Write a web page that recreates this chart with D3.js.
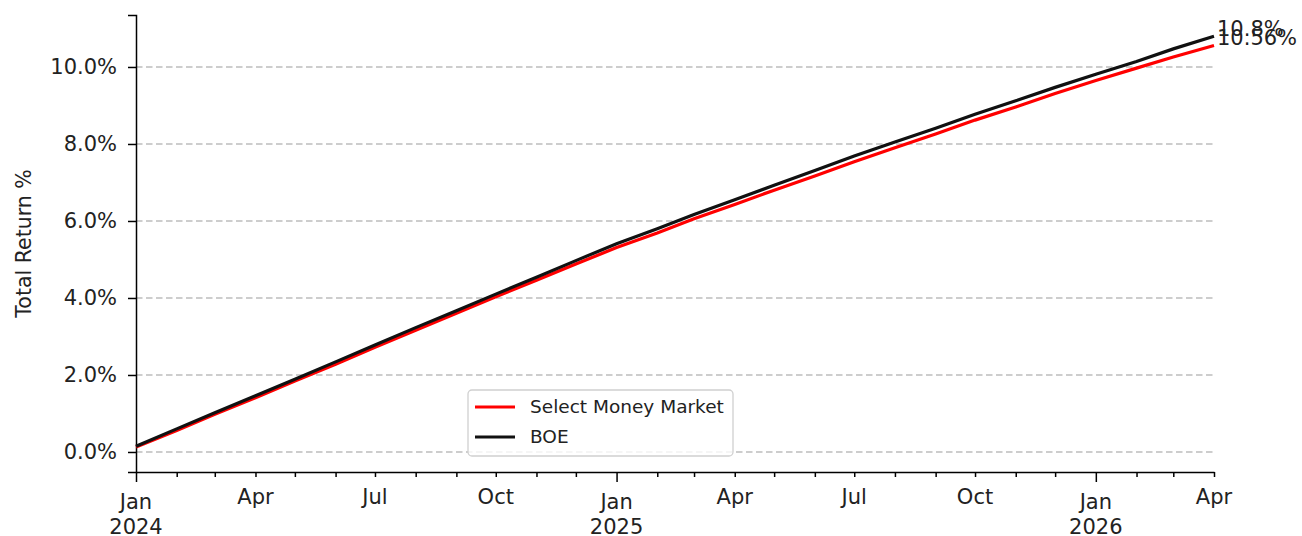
<!DOCTYPE html>
<html>
<head>
<meta charset="utf-8">
<script src="https://cdn.jsdelivr.net/npm/d3@7"></script>
<style>
  body { margin: 0; background: #fff; }
  text { font-family: "DejaVu Sans", sans-serif; fill: #222; }
</style>
</head>
<body>
<div id="chart"></div>
<script>
// Chart size and axes box
const width = 1302;
const height = 536;
const margin = { top: 15, right: 88, bottom: 64, left: 136 };

// Monthly dates (first of month)
const dates = [
  "2024-01-01","2024-02-01","2024-03-01","2024-04-01","2024-05-01","2024-06-01",
  "2024-07-01","2024-08-01","2024-09-01","2024-10-01","2024-11-01","2024-12-01",
  "2025-01-01","2025-02-01","2025-03-01","2025-04-01","2025-05-01","2025-06-01",
  "2025-07-01","2025-08-01","2025-09-01","2025-10-01","2025-11-01","2025-12-01",
  "2026-01-01","2026-02-01","2026-03-01","2026-04-01"
];

// Total return % series
const selectMoneyMarket = [
  0.13, 0.56, 0.98, 1.41, 1.84, 2.28, 2.72, 3.16, 3.60, 4.03, 4.46, 4.88,
  5.31, 5.69, 6.06, 6.43, 6.80, 7.17, 7.54, 7.90, 8.26, 8.62, 8.96, 9.31,
  9.65, 9.97, 10.26, 10.56
];
const boe = [
  0.15, 0.60, 1.02, 1.46, 1.89, 2.34, 2.78, 3.23, 3.67, 4.10, 4.54, 4.97,
  5.41, 5.80, 6.17, 6.55, 6.93, 7.31, 7.69, 8.05, 8.41, 8.77, 9.12, 9.47,
  9.81, 10.14, 10.47, 10.80
];

const yTicks = [0, 2, 4, 6, 8, 10];
const seriesNames = ["Select Money Market", "BOE"];
const seriesColors = ["#ff0000", "#111111"];

const parse = d3.timeParse("%Y-%m-%d");
const series = [selectMoneyMarket, boe].map((vals, i) => ({
  name: seriesNames[i],
  color: seriesColors[i],
  values: vals.map((v, j) => ({ date: parse(dates[j]), value: v }))
}));

const svg = d3.select("#chart")
  .append("svg")
  .attr("width", width)
  .attr("height", height);

const x = d3.scaleTime()
  .domain([parse(dates[0]), parse(dates[dates.length - 1])])
  .range([margin.left, width - margin.right]);

const y = d3.scaleLinear()
  .domain([-0.52, 11.35])
  .range([height - margin.bottom, margin.top]);

// Horizontal dashed grid
svg.append("g")
  .selectAll("line")
  .data(yTicks)
  .enter().append("line")
  .attr("x1", x.range()[0])
  .attr("x2", x.range()[1])
  .attr("y1", d => y(d))
  .attr("y2", d => y(d))
  .attr("stroke", "#bdbdbd")
  .attr("stroke-width", 1.3)
  .attr("stroke-dasharray", "6.5,3.5");

// Y axis
const yAxis = svg.append("g")
  .attr("transform", `translate(${margin.left},0)`)
  .call(d3.axisLeft(y).tickValues(yTicks).tickFormat(d => d.toFixed(1) + "%").tickSize(8).tickPadding(11));
yAxis.select(".domain").attr("stroke", "#000").attr("stroke-width", 1.5);
yAxis.selectAll(".tick line").attr("stroke", "#000").attr("stroke-width", 1.5);
yAxis.selectAll(".tick text").style("font-size", "21px").attr("fill", "#222");

// X axis: monthly minor ticks, quarterly labels, yearly majors
const months = d3.timeMonth.range(x.domain()[0], d3.timeDay.offset(x.domain()[1], 1));
const xAxis = svg.append("g")
  .attr("transform", `translate(0,${height - margin.bottom})`)
  .call(d3.axisBottom(x).tickValues(months).tickFormat("").tickSizeOuter(0));
xAxis.select(".domain").attr("stroke", "#000").attr("stroke-width", 1.5);
xAxis.selectAll(".tick line")
  .attr("stroke", "#000")
  .attr("stroke-width", 1.5)
  .attr("y2", d => d.getMonth() === 0 ? 10 : 5);

const labelled = months.filter(d => d.getMonth() % 3 === 0);
xAxis.append("g").selectAll("text")
  .data(labelled)
  .enter().append("text")
  .attr("x", d => x(d))
  .attr("y", d => d.getMonth() === 0 ? 37 : 32)
  .attr("text-anchor", "middle")
  .style("font-size", "21px")
  .text(d => d3.timeFormat("%b")(d));
xAxis.append("g").selectAll("text")
  .data(labelled.filter(d => d.getMonth() === 0))
  .enter().append("text")
  .attr("x", d => x(d))
  .attr("y", 62)
  .attr("text-anchor", "middle")
  .style("font-size", "21px")
  .text(d => d3.timeFormat("%Y")(d));

// Y axis title
svg.append("text")
  .attr("transform", `translate(31,${(y.range()[0] + y.range()[1]) / 2}) rotate(-90)`)
  .attr("text-anchor", "middle")
  .style("font-size", "20.5px")
  .text("Total Return %");

// Lines
const line = d3.line()
  .x(d => x(d.date))
  .y(d => y(d.value));

svg.append("g")
  .selectAll("path")
  .data(series)
  .enter().append("path")
  .attr("d", d => line(d.values))
  .attr("fill", "none")
  .attr("stroke", d => d.color)
  .attr("stroke-width", 3.2);

// End labels, baseline on the last point
series.forEach(s => {
  const last = s.values[s.values.length - 1];
  svg.append("text")
    .attr("x", x(last.date) + 3)
    .attr("y", y(last.value))
    .style("font-size", "21px")
    .attr("fill", "#222")
    .text(+last.value.toFixed(2) + "%");
});

// Legend
const legend = svg.append("g").attr("transform", "translate(468,390)");
legend.append("rect")
  .attr("width", 265)
  .attr("height", 66)
  .attr("rx", 4)
  .attr("fill", "rgba(255,255,255,0.8)")
  .attr("stroke", "#d0d0d0")
  .attr("stroke-width", 1.3);
series.forEach((s, i) => {
  const g = legend.append("g").attr("transform", `translate(0,${17 + i * 30})`);
  g.append("line")
    .attr("x1", 7).attr("x2", 47)
    .attr("stroke", s.color)
    .attr("stroke-width", 3.2);
  g.append("text")
    .attr("x", 62)
    .attr("dy", "0.35em")
    .style("font-size", "18.5px")
    .text(s.name);
});
</script>
</body>
</html>
